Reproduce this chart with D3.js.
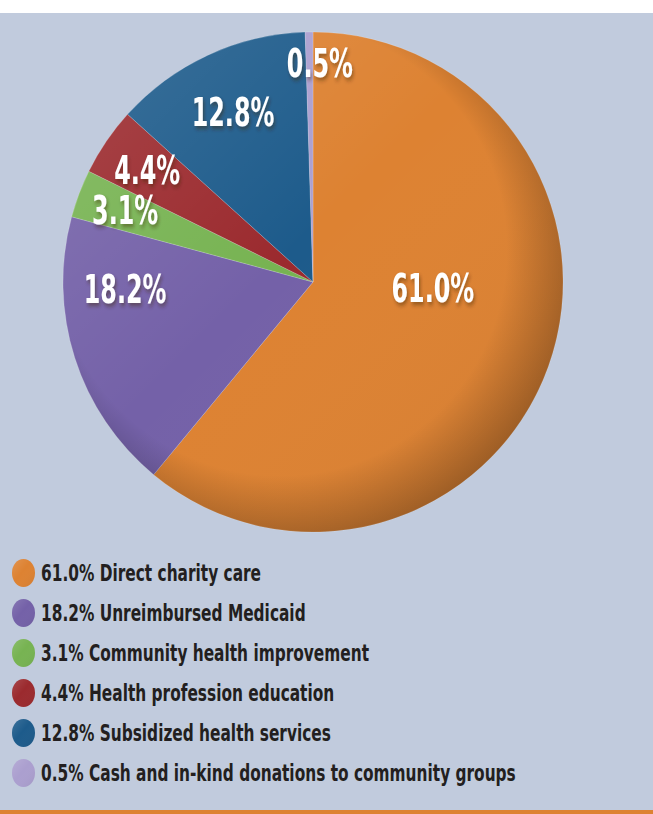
<!DOCTYPE html>
<html><head><meta charset="utf-8">
<script src="https://cdn.jsdelivr.net/npm/d3@7"></script>
<style>html,body{margin:0;padding:0;background:#fff;}svg{display:block;}</style>
</head><body>
<script>
const categories = ["Direct charity care","Unreimbursed Medicaid","Community health improvement","Health profession education","Subsidized health services","Cash and in-kind donations to community groups"];
const values = [61.0, 18.2, 3.1, 4.4, 12.8, 0.5];
const labels = ["61.0%","18.2%","3.1%","4.4%","12.8%","0.5%"];
const colors = ["#dd8232","#7461a8","#77b352","#9b2a2e","#1d5b8b","#ab9fcf"];

const W = 653, H = 814;
const FONT = "'DejaVu Sans Condensed','Liberation Sans Narrow','Arial Narrow',sans-serif";
const svg = d3.select("body").append("svg").attr("width", W).attr("height", H);
const defs = svg.append("defs");

svg.append("rect").attr("width", W).attr("height", H).attr("fill", "#fff");
svg.append("rect").attr("y", 13).attr("width", W).attr("height", H - 13).attr("fill", "#c1cbdd");
svg.append("rect").attr("y", 810).attr("width", W).attr("height", 4).attr("fill", "#dd8232");

const cx = 313, cy = 282, R = 250;
const pie = d3.pie().sort(null).value(d => d);
const arcs = pie(values);
const arc = d3.arc().innerRadius(0).outerRadius(R);

const g1 = defs.append("radialGradient").attr("id", "shade")
  .attr("gradientUnits", "userSpaceOnUse").attr("cx", -25).attr("cy", -25).attr("r", R + 40)
  .attr("fx", -60).attr("fy", -60);
g1.append("stop").attr("offset", "0%").attr("stop-color", "#000").attr("stop-opacity", 0);
g1.append("stop").attr("offset", "78%").attr("stop-color", "#000").attr("stop-opacity", 0);
g1.append("stop").attr("offset", "100%").attr("stop-color", "#000").attr("stop-opacity", 0.28);
const g2 = defs.append("linearGradient").attr("id", "hl").attr("x1", 0).attr("y1", 0).attr("x2", 1).attr("y2", 1);
g2.append("stop").attr("offset", "0%").attr("stop-color", "#fff").attr("stop-opacity", 0.14);
g2.append("stop").attr("offset", "45%").attr("stop-color", "#fff").attr("stop-opacity", 0);
g2.append("stop").attr("offset", "100%").attr("stop-color", "#000").attr("stop-opacity", 0.06);

const f = defs.append("filter").attr("id", "ts").attr("x", "-20%").attr("y", "-20%").attr("width", "150%").attr("height", "160%");
f.append("feDropShadow").attr("dx", 2).attr("dy", 3).attr("stdDeviation", 2).attr("flood-color", "#3a2010").attr("flood-opacity", 0.45);

const pg = svg.append("g").attr("transform", `translate(${cx},${cy})`);
pg.selectAll("path.s").data(arcs).join("path").attr("class", "s")
  .attr("d", arc).attr("fill", (d, i) => colors[i])
  .attr("stroke", "rgba(255,255,255,0.3)").attr("stroke-width", 0.6);
pg.append("circle").attr("r", R).attr("fill", "url(#hl)");
pg.append("circle").attr("r", R).attr("fill", "url(#shade)");

// label placement: radius fraction and angular offset (degrees) from slice middle
const labelR = [0.48, 0.752, 0.805, 0.80, 0.75, 0.876];
const labelShift = [-16.9, 15.5, 0.3, -0.2, -0.4, 2.7];
pg.selectAll("text.l").data(arcs).join("text").attr("class", "l")
  .attr("transform", (d, i) => {
    const a = (d.startAngle + d.endAngle) / 2 + labelShift[i] * Math.PI / 180;
    const rr = R * labelR[i];
    return `translate(${Math.sin(a) * rr},${-Math.cos(a) * rr}) scale(0.68,1)`;
  })
  .attr("text-anchor", "middle").attr("dy", "0.36em")
  .attr("font-family", FONT)
  .attr("font-weight", "bold").attr("font-size", 39).attr("fill", "#fff")
  .attr("filter", "url(#ts)")
  .text((d, i) => labels[i]);

// legend
const lg = svg.append("g");
const rowY = d3.scalePoint().domain(d3.range(categories.length)).range([573, 773]);
const items = lg.selectAll("g").data(categories).join("g")
  .attr("transform", (d, i) => `translate(0,${rowY(i)})`);
items.append("ellipse").attr("cx", 23.5).attr("cy", 0).attr("rx", 11.5).attr("ry", 14)
  .attr("fill", (d, i) => colors[i]);
items.append("ellipse").attr("cx", 23.5).attr("cy", 0).attr("rx", 11.5).attr("ry", 14)
  .attr("fill", "url(#hl)");
items.append("text").attr("transform", "translate(41,0) scale(0.76,1)").attr("dy", "0.36em")
  .attr("font-family", FONT)
  .attr("font-weight", "bold").attr("font-size", 22.5).attr("fill", "#231f20")
  .text((d, i) => `${labels[i]} ${d}`);
</script>
</body></html>
